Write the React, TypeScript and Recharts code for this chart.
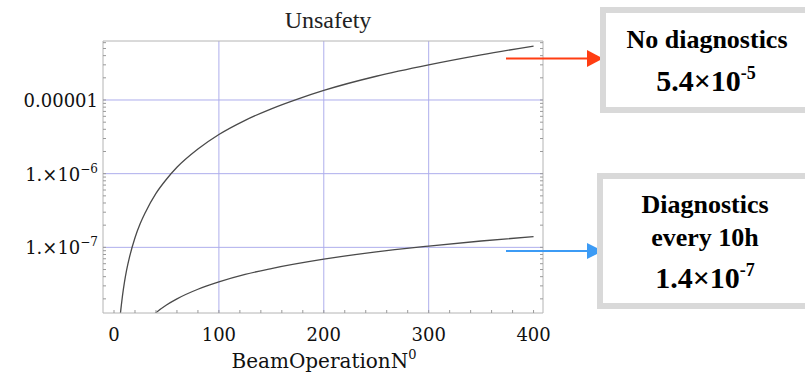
import React from 'react';
import { LineChart, Line, XAxis, YAxis, ReferenceLine } from 'recharts';

// beam operations N vs unsafety
const upperN = [5, 6, 7, 8, 10, 12, 15, 20, 25, 30, 40, 50, 60, 80, 100, 125, 150, 175, 200, 250, 300, 350, 400];
const upperP = [
  8.4e-9, 1.22e-8, 1.65e-8, 2.16e-8, 3.4e-8, 4.9e-8, 7.6e-8, 1.35e-7, 2.1e-7, 3.0e-7, 5.4e-7, 8.4e-7,
  1.22e-6, 2.16e-6, 3.4e-6, 5.3e-6, 7.6e-6, 1.03e-5, 1.35e-5, 2.1e-5, 3.0e-5, 4.1e-5, 5.4e-5,
];
const lowerN = [35, 40, 50, 60, 80, 100, 125, 150, 200, 250, 300, 350, 400];
const lowerP = [1.12e-8, 1.3e-8, 1.65e-8, 2.0e-8, 2.7e-8, 3.4e-8, 4.3e-8, 5.15e-8, 6.9e-8, 8.7e-8, 1.04e-7, 1.22e-7, 1.4e-7];

const xTicks = [0, 100, 200, 300, 400];
const xMinorTicks = [0, 20, 40, 60, 80, 100, 120, 140, 160, 180, 200, 220, 240, 260, 280, 300, 320, 340, 360, 380, 400];
const xGrid = [100, 200, 300];
const yTicks = [1e-7, 1e-6, 1e-5];
const yTickLabels = [
  { base: '1.\u00d710', exp: '\u22127' },
  { base: '1.\u00d710', exp: '\u22126' },
  { base: '0.00001', exp: '' },
];
const yMinorTicks = [
  2e-8, 3e-8, 4e-8, 5e-8, 6e-8, 7e-8, 8e-8, 9e-8,
  1e-7, 2e-7, 3e-7, 4e-7, 5e-7, 6e-7, 7e-7, 8e-7, 9e-7,
  1e-6, 2e-6, 3e-6, 4e-6, 5e-6, 6e-6, 7e-6, 8e-6, 9e-6,
  1e-5, 2e-5, 3e-5, 4e-5, 5e-5, 6e-5,
];

const upper = upperN.map((n, i) => ({ n, p: upperP[i] }));
const lower = lowerN.map((n, i) => ({ n, p: lowerP[i] }));

const X_DOMAIN: [number, number] = [-10.5, 409];
const Y_DOMAIN: [number, number] = [1.285e-8, 6.32e-5];
const FRAME = '#b4b4b4';
const TICK = '#9a9a9a';
const TLEN = 3;
const GRID = '#aeaeec';
const CURVE = '#4a4a4a';
const SERIF = '"DejaVu Serif", serif';
const TIMES = '"Liberation Serif", "Times New Roman", serif';

// small inward ticks (Mathematica-style frame), labels only on the major ones
function XTick({ x, y, payload }: any) {
  const major = xTicks.includes(payload.value);
  return (
    <g>
      <line x1={x} x2={x} y1={y} y2={y - TLEN} stroke={TICK} />
      {major && (
        <text x={x} y={y + 28} textAnchor='middle' fontFamily={SERIF} fontSize={18} fill='#111'>
          {payload.value}
        </text>
      )}
    </g>
  );
}

function YTick({ x, y, payload }: any) {
  const idx = yTicks.findIndex((t) => Math.abs(t - payload.value) / t < 1e-6);
  const lab = yTickLabels[idx];
  return (
    <g>
      <line x1={x} x2={x + TLEN} y1={y} y2={y} stroke={TICK} />
      {lab && (
        <text x={x - 5} y={y + 7} textAnchor='end' fontFamily={SERIF} fontSize={18} fill='#111'>
          {lab.base}
          {lab.exp && (
            <tspan fontSize={12} dy={-8}>
              {lab.exp}
            </tspan>
          )}
        </text>
      )}
    </g>
  );
}

function RightTick({ x, y }: any) {
  return <line x1={x - TLEN} x2={x} y1={y} y2={y} stroke={TICK} />;
}

function Annotations() {
  return (
    <svg width={805} height={375} style={{ position: 'absolute', left: 0, top: 0, pointerEvents: 'none' }}>
      <text x={328} y={28} textAnchor='middle' fontFamily={TIMES} fontSize={24} fill='#222'>
        Unsafety
      </text>
      <text x={324} y={368} textAnchor='middle' fontFamily={SERIF} fontSize={20} fill='#111'>
        BeamOperationN
        <tspan fontSize={13} dy={-9}>
          0
        </tspan>
      </text>

      {/* red arrow + box */}
      <line x1={506} y1={58.5} x2={589} y2={58.5} stroke='#ff3d12' strokeWidth={2} />
      <polygon points='587,50 603,58.5 587,67' fill='#ff3d12' />
      <rect x={603} y={10} width={208} height={100} fill='#fff' stroke='#d9d9d9' strokeWidth={6} />
      <text x={707} y={48} textAnchor='middle' fontFamily={TIMES} fontWeight='bold' fontSize={26} fill='#000'>
        No diagnostics
      </text>
      <text x={706} y={91} textAnchor='middle' fontFamily={TIMES} fontWeight='bold' fontSize={30} fill='#000'>
        5.4×10
        <tspan fontSize={18} dy={-12}>
          -5
        </tspan>
      </text>

      {/* blue arrow + box */}
      <line x1={506} y1={251} x2={589} y2={251} stroke='#3c9bf5' strokeWidth={2} />
      <polygon points='587,243 603,251 587,259' fill='#3c9bf5' />
      <rect x={600} y={176} width={210} height={130} fill='#fff' stroke='#d9d9d9' strokeWidth={6} />
      <text x={705} y={213} textAnchor='middle' fontFamily={TIMES} fontWeight='bold' fontSize={26} fill='#000'>
        Diagnostics
      </text>
      <text x={705} y={246} textAnchor='middle' fontFamily={TIMES} fontWeight='bold' fontSize={26} fill='#000'>
        every 10h
      </text>
      <text x={705} y={288} textAnchor='middle' fontFamily={TIMES} fontWeight='bold' fontSize={30} fill='#000'>
        1.4×10
        <tspan fontSize={18} dy={-12}>
          -7
        </tspan>
      </text>
    </svg>
  );
}

export default function App() {
  return (
    <div style={{ position: 'absolute', left: 0, top: 0, width: 805, height: 375, background: '#fff' }}>
      <LineChart width={805} height={375} margin={{ top: 41, right: 261, left: 0, bottom: 0 }}>
        <XAxis
          xAxisId='main'
          type='number'
          dataKey='n'
          domain={X_DOMAIN}
          allowDataOverflow
          ticks={xMinorTicks}
          interval={0}
          height={62}
          tickLine={false}
          tickSize={0}
          tickMargin={0}
          axisLine={{ stroke: FRAME }}
          tick={<XTick />}
        />
        <XAxis
          xAxisId='top'
          orientation='top'
          type='number'
          dataKey='n'
          domain={X_DOMAIN}
          allowDataOverflow
          mirror
          tick={false}
          tickLine={false}
          axisLine={{ stroke: FRAME }}
        />
        <YAxis
          yAxisId='main'
          scale='log'
          type='number'
          domain={Y_DOMAIN}
          allowDataOverflow
          ticks={yMinorTicks}
          interval={0}
          width={103}
          tickLine={false}
          tickSize={0}
          tickMargin={0}
          axisLine={{ stroke: FRAME }}
          tick={<YTick />}
        />
        <YAxis
          yAxisId='right'
          orientation='right'
          scale='log'
          type='number'
          domain={Y_DOMAIN}
          allowDataOverflow
          ticks={yMinorTicks}
          interval={0}
          width={1}
          tickLine={false}
          tickSize={0}
          tickMargin={0}
          axisLine={{ stroke: FRAME }}
          tick={<RightTick />}
        />
        {xGrid.map((v) => (
          <ReferenceLine key={'x' + v} x={v} xAxisId='main' yAxisId='main' stroke={GRID} strokeWidth={1} />
        ))}
        {yTicks.map((v) => (
          <ReferenceLine key={'y' + v} y={v} xAxisId='main' yAxisId='main' stroke={GRID} strokeWidth={1} />
        ))}
        {/* invisible copy so the frame axes carry data */}
        <Line
          data={upper}
          xAxisId='top'
          yAxisId='right'
          dataKey='p'
          stroke='none'
          dot={false}
          activeDot={false}
          legendType='none'
          isAnimationActive={false}
        />
        <Line
          data={upper}
          xAxisId='main'
          yAxisId='main'
          dataKey='p'
          type='monotone'
          stroke={CURVE}
          strokeWidth={1.3}
          dot={false}
          isAnimationActive={false}
        />
        <Line
          data={lower}
          xAxisId='main'
          yAxisId='main'
          dataKey='p'
          type='monotone'
          stroke={CURVE}
          strokeWidth={1.3}
          dot={false}
          isAnimationActive={false}
        />
      </LineChart>
      <Annotations />
    </div>
  );
}
